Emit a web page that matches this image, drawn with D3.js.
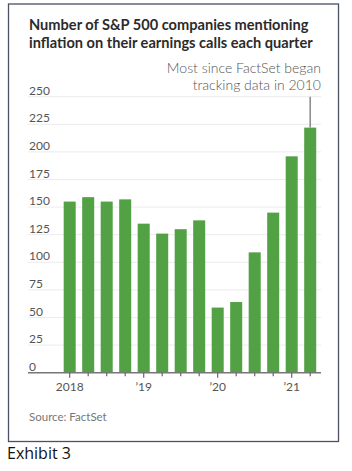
<!DOCTYPE html>
<html>
<head>
<meta charset="utf-8">
<script src="https://cdn.jsdelivr.net/npm/d3@7"></script>
<style>
  body { margin: 0; background: #fff; }
  text { font-family: Lato, "Open Sans", sans-serif; }
</style>
</head>
<body>
<div id="chart"></div>
<script>
// inflation mentions on S&P 500 earnings calls, by quarter

var quarters = ["2018Q1", "2018Q2", "2018Q3", "2018Q4",
                "2019Q1", "2019Q2", "2019Q3", "2019Q4",
                "2020Q1", "2020Q2", "2020Q3", "2020Q4",
                "2021Q1", "2021Q2"];
var mentions = [155, 159, 155, 157, 135, 126, 130, 138, 59, 64, 109, 145, 196, 222];
var yTicks = [0, 25, 50, 75, 100, 125, 150, 175, 200, 225, 250];
var yearTicks = ["2018Q1", "2019Q1", "2020Q1", "2021Q1"];
var yearLabels = ["2018", "\u201919", "\u201920", "\u201921"];

var W = 352, H = 471;

var svg = d3.select("#chart")
    .append("svg")
    .attr("width", W)
    .attr("height", H);

// outer frame
svg.append("rect")
    .attr("x", 8.5)
    .attr("y", 4)
    .attr("width", 330)
    .attr("height", 437.5)
    .style("fill", "none")
    .style("stroke", "#4b5066")
    .style("stroke-width", 1.3);

var gridLeft = 28, gridRight = 321;

var x = d3.scaleBand()
    .domain(quarters)
    .range([60.45, 319.45])
    .paddingInner(0.35)
    .paddingOuter(0.175);

var y = d3.scaleLinear()
    .domain([0, 250])
    .range([372.7, 96.7]);

// title
var title = svg.append("text")
    .attr("x", 29)
    .attr("y", 30)
    .style("font-size", "14.6px")
    .style("font-weight", "bold")
    .style("fill", "#2b2b2b");
title.append("tspan").attr("x", 29).attr("dy", 0).text("Number of S&P 500 companies mentioning");
title.append("tspan").attr("x", 29).attr("dy", 18).text("inflation on their earnings calls each quarter");

// gridlines
svg.append("g")
    .selectAll("line")
    .data(yTicks.filter(d => d > 0))
    .join("line")
    .attr("x1", gridLeft)
    .attr("x2", gridRight)
    .attr("y1", d => y(d))
    .attr("y2", d => y(d))
    .style("stroke", "#ececec")
    .style("stroke-width", 1);

// y labels sit above the gridlines
svg.append("g")
    .selectAll("text")
    .data(yTicks)
    .join("text")
    .attr("x", 29)
    .attr("y", d => y(d) - 2)
    .style("font-size", "12px")
    .style("fill", "#555")
    .text(d => d);

// bars
svg.append("g")
    .selectAll("rect")
    .data(mentions)
    .join("rect")
    .attr("x", (d, i) => x(quarters[i]))
    .attr("y", d => y(d))
    .attr("width", x.bandwidth())
    .attr("height", d => y(0) - y(d))
    .style("fill", "#52a145");

// baseline + x ticks
var xAxis = svg.append("g")
    .attr("transform", "translate(0," + y(0) + ")");
xAxis.append("line")
    .attr("x1", gridLeft)
    .attr("x2", gridRight)
    .style("stroke", "#777")
    .style("stroke-width", 1.5);
xAxis.selectAll("line.tick")
    .data(quarters)
    .join("line")
    .attr("class", "tick")
    .attr("x1", d => x(d) + x.bandwidth() / 2)
    .attr("x2", d => x(d) + x.bandwidth() / 2)
    .attr("y1", 0)
    .attr("y2", d => yearTicks.indexOf(d) >= 0 ? 5 : 3.5)
    .style("stroke", "#666")
    .style("stroke-width", 1.2);
xAxis.selectAll("text")
    .data(yearTicks)
    .join("text")
    .attr("x", d => x(d) + x.bandwidth() / 2)
    .attr("y", 18.5)
    .attr("text-anchor", "middle")
    .style("font-size", "12px")
    .style("fill", "#555")
    .text((d, i) => yearLabels[i]);

// annotation for the latest quarter
var last = quarters[quarters.length - 1];
svg.append("line")
    .attr("x1", x(last) + x.bandwidth() / 2)
    .attr("x2", x(last) + x.bandwidth() / 2)
    .attr("y1", y(250))
    .attr("y2", y(mentions[mentions.length - 1]))
    .style("stroke", "#888")
    .style("stroke-width", 1.5);

var note = svg.append("text")
    .attr("text-anchor", "end")
    .attr("y", 73)
    .style("font-size", "14px")
    .style("font-weight", "300")
    .style("fill", "#555");
note.append("tspan").attr("x", gridRight).attr("dy", 0).text("Most since FactSet began");
note.append("tspan").attr("x", gridRight).attr("dy", 16.5).text("tracking data in 2010");

svg.append("text")
    .attr("x", 29)
    .attr("y", 421)
    .style("font-size", "11.5px")
    .style("fill", "#777")
    .text("Source: FactSet");

svg.append("text")
    .attr("x", 7)
    .attr("y", 459)
    .style("font-family", "'Open Sans', sans-serif")
    .style("font-size", "16px")
    .style("fill", "#111")
    .text("Exhibit 3");
</script>
</body>
</html>
